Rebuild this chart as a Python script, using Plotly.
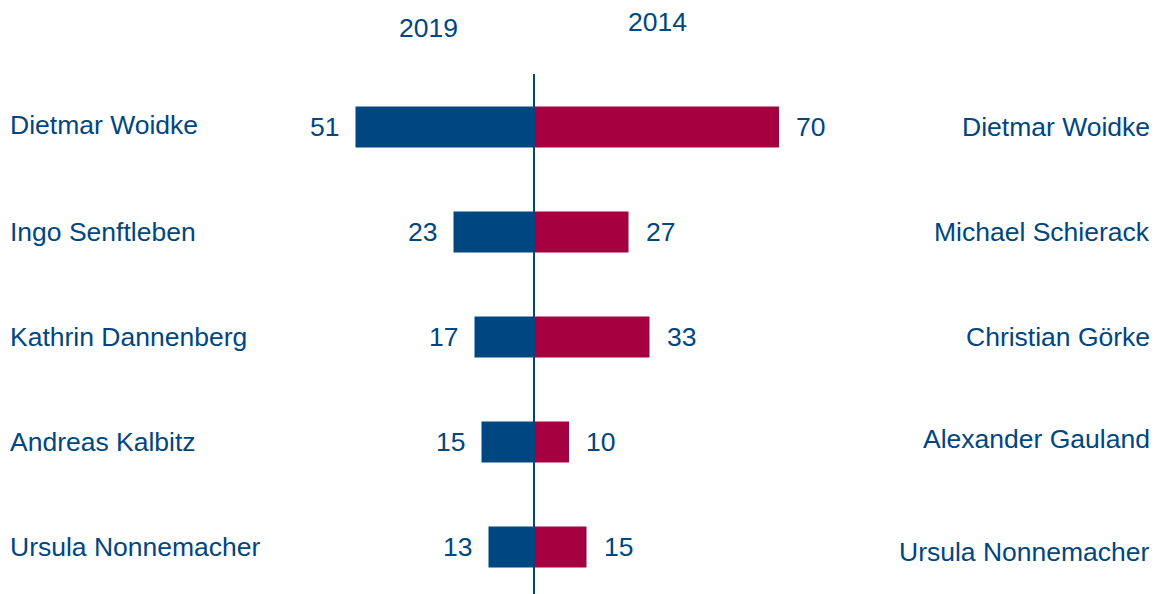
import plotly.graph_objects as go

left_names = ["Dietmar Woidke", "Ingo Senftleben", "Kathrin Dannenberg", "Andreas Kalbitz", "Ursula Nonnemacher"]
right_names = ["Dietmar Woidke", "Michael Schierack", "Christian Görke", "Alexander Gauland", "Ursula Nonnemacher"]
values_2019 = [51, 23, 17, 15, 13]
values_2014 = [70, 27, 33, 10, 15]
year_labels = ["2019", "2014"]

BLUE = "#004680"
RED = "#A50040"
FONT = "Liberation Sans, Arial, sans-serif"
FS = 26.5

W, H = 1156, 594
px_per_unit = 3.5
zero_px = 534
xmin = -zero_px / px_per_unit
xmax = (W - zero_px) / px_per_unit
row0_px, row_step = 127, 105
ytop = -row0_px / row_step
ybot = (H - row0_px) / row_step

idx = list(range(len(left_names)))

fig = go.Figure()
fig.add_trace(go.Bar(y=idx, x=[-v for v in values_2019], orientation="h",
                     marker=dict(color=BLUE, line=dict(width=0)), width=0.39,
                     hoverinfo="skip", name=year_labels[0]))
fig.add_trace(go.Bar(y=idx, x=values_2014, orientation="h",
                     marker=dict(color=RED, line=dict(width=0)), width=0.39,
                     hoverinfo="skip", name=year_labels[1]))

ann = []
for i in idx:
    ann.append(dict(x=-values_2019[i], y=i, text=str(values_2019[i]), xanchor="right",
                    xshift=-15, showarrow=False, font=dict(size=FS, color=BLUE, family=FONT)))
    ann.append(dict(x=values_2014[i], y=i, text=str(values_2014[i]), xanchor="left",
                    xshift=15, showarrow=False, font=dict(size=FS, color=BLUE, family=FONT)))
    ann.append(dict(x=8 / W, xref="paper", y=i, text=left_names[i], xanchor="left",
                    yshift=2 if i == 0 else 0,
                    showarrow=False, font=dict(size=FS, color=BLUE, family=FONT)))
    ann.append(dict(x=1152 / W, xref="paper", y=i, text=right_names[i], xanchor="right",
                    yshift=(-5 if i == 4 else (3 if i == 3 else 0)),
                    showarrow=False, font=dict(size=FS, color=BLUE, family=FONT)))

ann.append(dict(x=428 / W, xref="paper", y=1 - 28 / H, yref="paper", text=year_labels[0],
                showarrow=False, xanchor="center", yanchor="middle",
                font=dict(size=FS, color=BLUE, family=FONT)))
ann.append(dict(x=658 / W, xref="paper", y=1 - 22 / H, yref="paper", text=year_labels[1],
                showarrow=False, xanchor="center", yanchor="middle",
                font=dict(size=FS, color=BLUE, family=FONT)))

fig.add_shape(type="line", x0=0, x1=0, y0=(74 - row0_px) / row_step, y1=ybot,
              line=dict(color=BLUE, width=2), layer="above")

fig.update_layout(
    width=W, height=H, barmode="overlay", showlegend=False,
    margin=dict(l=0, r=0, t=0, b=0),
    paper_bgcolor="white", plot_bgcolor="white",
    xaxis=dict(range=[xmin, xmax], visible=False, fixedrange=True),
    yaxis=dict(range=[ybot, ytop], visible=False, fixedrange=True),
    annotations=ann,
    font=dict(family=FONT),
)

fig.write_html(
    "out.html",
    config={"displayModeBar": False},
    post_script="document.body.style.margin='0';document.body.style.overflow='hidden';",
)
